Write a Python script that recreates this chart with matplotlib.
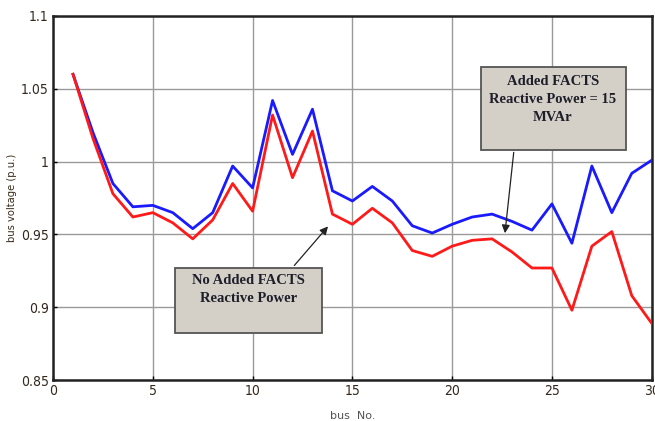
import matplotlib.pyplot as plt
from matplotlib.patches import Rectangle

# bus numbers and voltages
bus = list(range(1, 31))
v_added = [1.060, 1.020, 0.985, 0.969, 0.970, 0.965, 0.954, 0.965, 0.997, 0.982,
           1.042, 1.005, 1.036, 0.980, 0.973, 0.983, 0.973, 0.956, 0.951, 0.957,
           0.962, 0.964, 0.959, 0.953, 0.971, 0.944, 0.997, 0.965, 0.992, 1.001]
v_none = [1.060, 1.016, 0.978, 0.962, 0.965, 0.958, 0.947, 0.960, 0.985, 0.966,
          1.032, 0.989, 1.021, 0.964, 0.957, 0.968, 0.958, 0.939, 0.935, 0.942,
          0.946, 0.947, 0.938, 0.927, 0.927, 0.898, 0.942, 0.952, 0.908, 0.889]

xticks = [0, 5, 10, 15, 20, 25, 30]
yticks = [0.85, 0.9, 0.95, 1.0, 1.05, 1.1]
ytick_labels = ['0.85', '0.9', '0.95', '1', '1.05', '1.1']

tick_font = ['DejaVu Sans']
box_font = ['Liberation Serif', 'DejaVu Serif']
box_color = '#d4d0c8'

fig = plt.figure(figsize=(6.55, 4.21), dpi=100)
ax = fig.add_axes([0.081, 0.097, 0.914, 0.865])

ax.plot(bus, v_added, color='#1a1aff', lw=2, zorder=3)
ax.plot(bus, v_none, color='#ff1a1a', lw=2, zorder=3)

ax.set_xlim(0, 30)
ax.set_ylim(0.85, 1.1)
ax.set_xticks(xticks)
ax.set_xticklabels([str(t) for t in xticks], family=tick_font, stretch='condensed',
                   fontsize=10, color='#33281c')
ax.set_yticks(yticks)
ax.set_yticklabels(ytick_labels, family=tick_font, stretch='condensed',
                   fontsize=10, color='#33281c')
ax.tick_params(direction='in', length=3, width=1, pad=3)
ax.grid(True, color='#9a9a9a', lw=1)
for s in ax.spines.values():
    s.set_linewidth(1.8)
    s.set_color('#222222')

ax.set_xlabel('bus  No.', family=tick_font, fontsize=8, color='#555555')
ax.xaxis.set_label_coords(0.5, -0.085)
ax.set_ylabel('bus voltage (p.u.)', family=tick_font, stretch='condensed',
              fontsize=8, color='#3a2a1a')
ax.yaxis.set_label_coords(-0.06, 0.5)

# annotation boxes
def note(x0, x1, y0, y1, text, start, tip):
    ax.add_patch(Rectangle((x0, y0), x1 - x0, y1 - y0, facecolor=box_color,
                           edgecolor='#555555', lw=1.3, zorder=5))
    ax.text((x0 + x1) / 2, y1 - (y1 - y0) * 0.1, text, ha='center', va='top',
            family=box_font, fontweight='bold', fontsize=10.5, color='#1e1e2a',
            linespacing=1.5, zorder=6)
    ax.annotate('', xy=tip, xytext=start,
                arrowprops=dict(arrowstyle='-|>', color='#222222', lw=0.9,
                                mutation_scale=12), zorder=6)

note(21.42, 28.69, 1.0083, 1.0649, 'Added FACTS\nReactive Power = 15\nMVAr',
     (23.10, 1.0083), (22.63, 0.949))
note(6.11, 13.49, 0.8822, 0.9273, 'No Added FACTS\nReactive Power',
     (12.0, 0.9273), (13.87, 0.957))

fig.savefig('out.png', dpi=100)
